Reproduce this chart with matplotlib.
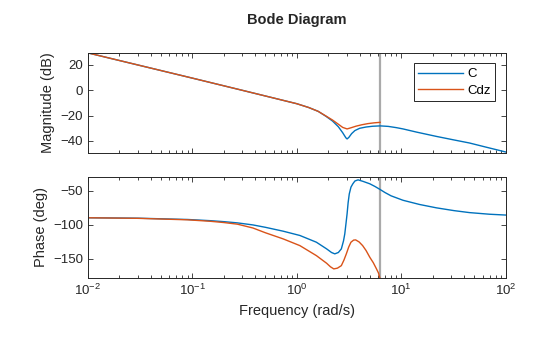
import numpy as np
import matplotlib
matplotlib.use('Agg')
import matplotlib.pyplot as plt
from matplotlib.ticker import LogLocator, NullFormatter

plt.rcParams['font.family'] = ['Liberation Sans', 'DejaVu Sans']
plt.rcParams['mathtext.fontset'] = 'custom'
plt.rcParams['mathtext.rm'] = 'Liberation Sans'

# frequency points (rad/s) and values
w_mag_c = [0.01, 0.03, 0.1, 0.3, 0.6, 1.0, 1.3, 1.6, 1.9, 2.2, 2.5, 2.75, 2.95, 3.03,
           3.15, 3.35, 3.6, 4.0, 4.6, 5.3, 6.28, 7.5, 9, 10.4, 14, 21.7, 32, 45, 65, 100]
mag_c = [29.5, 20.0, 9.6, 0.0, -6.1, -10.6, -13.6, -16.6, -20.5, -24.3, -28.8, -33.5,
         -37.5, -38.4, -37.2, -34.2, -31.8, -30.0, -29.0, -28.4, -28.1, -28.5, -29.5,
         -30.5, -33.0, -36.4, -39.2, -41.6, -44.9, -48.7]

w_mag_d = [0.01, 0.03, 0.1, 0.3, 0.6, 1.0, 1.3, 1.6, 1.9, 2.2, 2.5, 2.75, 3.03, 3.3,
           3.7, 4.2, 4.8, 5.5, 6.28]
mag_d = [29.5, 20.0, 9.6, 0.0, -6.1, -10.6, -13.6, -16.6, -20.3, -23.5, -26.8, -29.3,
         -30.5, -29.6, -28.3, -27.2, -26.3, -25.7, -25.3]

w_ph_c = [0.01, 0.03, 0.09, 0.15, 0.2, 0.27, 0.38, 0.5, 0.74, 1.07, 1.54, 1.93, 2.15,
          2.31, 2.5, 2.67, 2.8, 2.88, 2.96, 3.03, 3.1, 3.18, 3.3, 3.44, 3.6, 3.86, 4.3,
          5.0, 5.6, 6.28, 7.0, 8.0, 10.4, 15, 21.7, 32, 45, 70, 100]
ph_c = [-90, -90.6, -92.5, -94.3, -95.7, -97.5, -100.5, -104, -109.7, -116, -125.9,
        -135.7, -141, -143, -141, -135.7, -124, -113.7, -98, -84.3, -68, -55, -45,
        -40.1, -36, -34.3, -36.5, -40.1, -44, -48.5, -53, -57.8, -64.3, -70.5, -75.4,
        -79.5, -82.4, -84.8, -86]

w_ph_d = [0.01, 0.03, 0.09, 0.15, 0.2, 0.27, 0.38, 0.5, 0.74, 1.07, 1.54, 1.93, 2.1,
          2.26, 2.45, 2.67, 2.83, 2.98, 3.14, 3.3, 3.5, 3.66, 3.95, 4.27, 4.6, 5.0, 5.4,
          5.79, 6.05, 6.28]
ph_d = [-90, -90.8, -93, -95.2, -97, -99.4, -105, -112, -121, -130.9, -145.6, -156.8,
        -162, -165.1, -164, -160.3, -152, -143, -133, -125.9, -122.8, -122.5, -125.5,
        -130.9, -138, -148, -156, -165, -171, -180]

w_nyq = 6.28
labels = ['C', 'Cdz']
blue = '#0072BD'
orange = '#D95319'

fig = plt.figure(figsize=(5.6, 3.37), dpi=100)
ax1 = fig.add_axes([0.157, 0.546, 0.746, 0.297])
ax2 = fig.add_axes([0.157, 0.175, 0.746, 0.300])

ax1.plot(w_mag_c, mag_c, color=blue, lw=1.0, label=labels[0])
ax1.plot(w_mag_d, mag_d, color=orange, lw=1.0, label=labels[1])
ax2.plot(w_ph_c, ph_c, color=blue, lw=1.0)
ax2.plot(w_ph_d, ph_d, color=orange, lw=1.0)

for ax in (ax1, ax2):
    ax.axvline(w_nyq, color='#aaaaaa', lw=1.6, zorder=1)
    ax.set_xscale('log')
    ax.set_xlim(0.01, 100)
    ax.xaxis.set_major_locator(LogLocator(base=10, numticks=10))
    ax.xaxis.set_minor_locator(LogLocator(base=10, subs=np.arange(2, 10), numticks=10))
    ax.xaxis.set_minor_formatter(NullFormatter())
    ax.tick_params(which='both', direction='in', top=True, right=True,
                   labelsize=9.5, color='#262626', labelcolor='#262626', width=0.6)
    ax.tick_params(which='major', length=3.5)
    ax.tick_params(which='minor', length=2)
    for s in ax.spines.values():
        s.set_linewidth(0.7)
        s.set_color('#262626')

ax1.set_ylim(-49.5, 29.5)
ax1.set_yticks([-40, -20, 0, 20])
ax1.set_xticklabels([])
ax2.set_ylim(-178.5, -30)
ax2.set_yticks([-150, -100, -50])

ax1.set_ylabel('Magnitude (dB)', fontsize=10.5, color='#262626')
ax2.set_ylabel('Phase (deg)', fontsize=10.5, color='#262626')
ax2.set_xlabel('Frequency (rad/s)', fontsize=10.5, color='#262626')
fig.text(0.53, 0.94, 'Bode Diagram', ha='center', va='center',
         fontsize=10.5, fontweight='bold', color='#262626')

leg = ax1.legend(loc='upper right', fontsize=9.5, fancybox=False, framealpha=1,
                 edgecolor='#262626', handlelength=3.4, borderaxespad=0.8,
                 handletextpad=0.3, borderpad=0.35, labelspacing=0.3)
leg.get_frame().set_linewidth(0.7)

plt.savefig('out.png', dpi=100)
